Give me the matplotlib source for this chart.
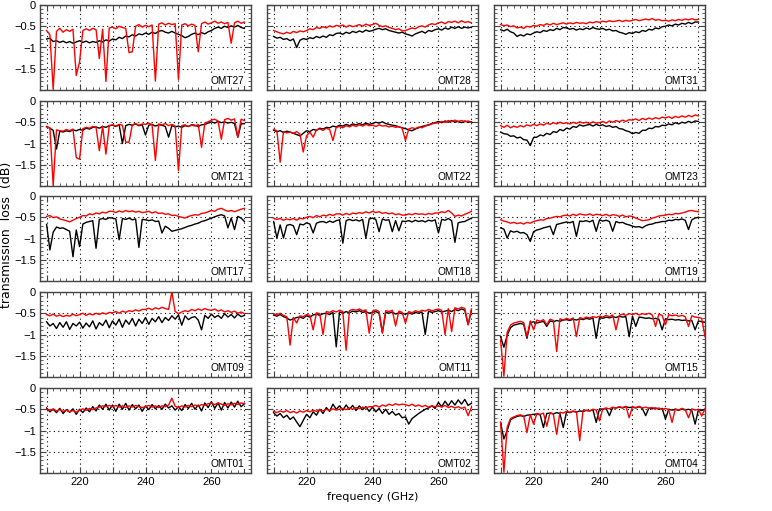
#Transmission loss of the OMT units, 15 panels

import numpy as np
import matplotlib.pyplot as plt
import matplotlib as mpl
from matplotlib.ticker import MultipleLocator

OUT_PATH = 'out.png'

mpl.rcParams.update({
    'font.family': ['Liberation Sans', 'DejaVu Sans'],
    'font.size': 8,
    'axes.unicode_minus': True,
})

# frequency grid (GHz), 1 GHz steps; the right column runs a bit further
FREQ = np.arange(210, 271)
FREQ_EXT = np.arange(210, 273)

OMT27_BLACK = [
    -0.80, -0.78, -0.86, -0.84, -0.88, -0.85, -0.89, -0.86, -0.90, -0.87,
    -0.84, -0.88, -0.85, -0.89, -0.86, -0.88, -0.84, -0.87, -0.82, -0.85,
    -0.80, -0.82, -0.76, -0.79, -0.73, -0.75, -0.70, -0.73, -0.68, -0.70,
    -0.66, -0.69, -0.64, -0.67, -0.62, -0.60, -0.64, -0.66, -0.62, -0.66,
    -0.69, -0.72, -0.77, -0.74, -0.69, -0.66, -0.70, -0.65, -0.68, -0.63,
    -0.60, -0.55, -0.52, -0.55, -0.50, -0.53, -0.49, -0.52, -0.48, -0.53,
    -0.55]
OMT27_RED = [
    -0.60, -0.70, -1.98, -0.62, -0.55, -0.64, -0.58, -0.62, -0.57, -1.66,
    -1.34, -0.60, -0.56, -0.60, -0.55, -0.58, -1.26, -0.57, -1.80, -0.54,
    -0.52, -0.56, -0.50, -0.53, -0.55, -1.12, -1.10, -0.50, -0.46, -0.52,
    -0.48, -0.51, -0.47, -1.79, -0.45, -0.42, -0.47, -0.43, -0.46, -0.44,
    -1.75, -0.47, -0.44, -0.49, -0.45, -0.48, -1.10, -0.44, -0.40, -0.45,
    -0.42, -0.38, -0.43, -0.40, -0.44, -0.41, -0.90, -0.42, -0.38, -0.43,
    -0.40]

OMT28_BLACK = [
    -0.74, -0.78, -0.76, -0.81, -0.79, -0.84, -0.80, -1.00, -0.83, -0.79,
    -0.81, -0.77, -0.79, -0.74, -0.77, -0.73, -0.76, -0.70, -0.72, -0.67,
    -0.66, -0.69, -0.64, -0.67, -0.62, -0.65, -0.61, -0.64, -0.59, -0.62,
    -0.60, -0.57, -0.55, -0.58, -0.56, -0.60, -0.62, -0.64, -0.66, -0.64,
    -0.68, -0.70, -0.73, -0.68, -0.65, -0.62, -0.66, -0.60, -0.62, -0.58,
    -0.56, -0.59, -0.54, -0.57, -0.52, -0.55, -0.51, -0.55, -0.52, -0.54,
    -0.52]
OMT28_RED = [
    -0.60, -0.63, -0.66, -0.68, -0.64, -0.67, -0.62, -0.65, -0.61, -0.63,
    -0.60, -0.56, -0.58, -0.53, -0.55, -0.51, -0.54, -0.49, -0.52, -0.48,
    -0.50, -0.47, -0.52, -0.48, -0.51, -0.49, -0.46, -0.50, -0.45, -0.48,
    -0.46, -0.43, -0.48, -0.51, -0.49, -0.53, -0.55, -0.58, -0.56, -0.61,
    -0.60, -0.57, -0.54, -0.56, -0.51, -0.49, -0.52, -0.47, -0.44, -0.46,
    -0.42, -0.40, -0.44, -0.39, -0.41, -0.38, -0.42, -0.37, -0.41, -0.39,
    -0.42]

OMT31_BLACK = [
    -0.58, -0.61, -0.57, -0.63, -0.66, -0.74, -0.70, -0.73, -0.68, -0.70,
    -0.66, -0.63, -0.65, -0.60, -0.62, -0.58, -0.60, -0.55, -0.58, -0.53,
    -0.54, -0.57, -0.55, -0.59, -0.56, -0.58, -0.54, -0.57, -0.53, -0.56,
    -0.57, -0.55, -0.59, -0.57, -0.61, -0.60, -0.64, -0.66, -0.69, -0.65,
    -0.67, -0.63, -0.65, -0.60, -0.62, -0.57, -0.59, -0.54, -0.56, -0.51,
    -0.50, -0.47, -0.49, -0.45, -0.47, -0.43, -0.45, -0.41, -0.44, -0.40,
    -0.40]
OMT31_RED = [
    -0.46, -0.49, -0.47, -0.51, -0.49, -0.54, -0.52, -0.55, -0.50, -0.52,
    -0.48, -0.50, -0.46, -0.48, -0.44, -0.47, -0.43, -0.46, -0.44, -0.42,
    -0.45, -0.42, -0.44, -0.41, -0.43, -0.42, -0.44, -0.40, -0.42, -0.39,
    -0.41, -0.38, -0.40, -0.37, -0.39, -0.38, -0.36, -0.39, -0.36, -0.38,
    -0.36, -0.34, -0.37, -0.35, -0.33, -0.35, -0.32, -0.36, -0.34, -0.37,
    -0.36, -0.38, -0.35, -0.37, -0.34, -0.36, -0.33, -0.35, -0.32, -0.35,
    -0.34]

OMT21_BLACK = [
    -0.60, -0.64, -0.69, -1.13, -0.71, -0.73, -0.70, -0.72, -0.68, -0.70,
    -0.67, -0.69, -0.64, -0.66, -0.62, -0.61, -0.64, -0.60, -0.62, -0.58,
    -0.57, -0.60, -0.56, -1.00, -0.58, -0.55, -0.57, -0.54, -0.58, -0.56,
    -0.80, -0.57, -0.55, -0.59, -0.56, -0.57, -0.60, -0.85, -0.58, -0.61,
    -0.59, -0.62, -0.58, -0.60, -0.56, -0.57, -0.60, -0.56, -0.55, -0.52,
    -0.49, -0.52, -0.48, -0.51, -0.49, -0.52, -0.50, -0.53, -0.85, -0.54,
    -0.53]
OMT21_RED = [
    -0.61, -0.63, -1.99, -0.68, -0.70, -0.71, -0.67, -0.70, -0.66, -1.33,
    -1.37, -0.65, -0.62, -0.64, -0.60, -0.62, -1.17, -0.59, -1.25, -0.58,
    -0.56, -0.59, -0.55, -0.57, -0.97, -0.97, -0.56, -0.53, -0.57, -0.54,
    -0.55, -0.52, -0.56, -1.40, -0.54, -0.56, -0.53, -0.58, -0.55, -0.59,
    -1.64, -0.58, -0.56, -0.60, -0.57, -0.59, -0.55, -1.09, -0.52, -0.49,
    -0.45, -0.43, -0.47, -0.90, -0.44, -0.41, -0.45, -0.42, -0.85, -0.43,
    -0.46]

OMT22_BLACK = [
    -0.69, -0.72, -0.70, -0.74, -0.71, -0.73, -0.76, -0.79, -0.82, -0.76,
    -0.70, -0.72, -0.67, -0.69, -0.64, -0.66, -0.62, -0.63, -0.59, -0.61,
    -0.57, -0.59, -0.55, -0.58, -0.54, -0.56, -0.53, -0.56, -0.52, -0.55,
    -0.53, -0.50, -0.52, -0.49, -0.53, -0.55, -0.57, -0.58, -0.61, -0.63,
    -0.65, -0.68, -0.70, -0.66, -0.63, -0.60, -0.58, -0.56, -0.53, -0.51,
    -0.48, -0.51, -0.47, -0.50, -0.46, -0.50, -0.48, -0.51, -0.47, -0.50,
    -0.49]
OMT22_RED = [
    -0.67, -0.70, -1.44, -0.72, -0.75, -0.73, -0.76, -0.72, -0.78, -1.20,
    -0.82, -0.73, -0.85, -0.68, -0.66, -0.69, -0.64, -0.67, -0.93, -0.62,
    -0.60, -0.63, -0.58, -0.61, -0.57, -0.60, -0.56, -0.59, -0.55, -0.58,
    -0.57, -0.60, -0.56, -0.59, -0.58, -0.61, -0.59, -0.62, -0.60, -0.64,
    -0.93, -0.66, -0.63, -0.65, -0.61, -0.63, -0.59, -0.57, -0.54, -0.52,
    -0.51, -0.48, -0.50, -0.46, -0.49, -0.45, -0.48, -0.46, -0.49, -0.47,
    -0.50]

OMT23_BLACK = [
    -0.73, -0.77, -0.78, -0.83, -0.82, -0.87, -0.85, -0.91, -0.92, -1.05,
    -0.86, -0.85, -0.80, -0.82, -0.76, -0.79, -0.72, -0.74, -0.67, -0.70,
    -0.64, -0.66, -0.60, -0.62, -0.56, -0.59, -0.57, -0.55, -0.59, -0.55,
    -0.58, -0.56, -0.60, -0.58, -0.62, -0.60, -0.65, -0.66, -0.70, -0.72,
    -0.77, -0.74, -0.76, -0.69, -0.69, -0.64, -0.65, -0.60, -0.61, -0.57,
    -0.58, -0.54, -0.56, -0.51, -0.54, -0.50, -0.52, -0.48, -0.51, -0.47,
    -0.48]
OMT23_RED = [
    -0.58, -0.62, -0.57, -0.63, -0.59, -0.62, -0.58, -0.61, -0.56, -0.59,
    -0.55, -0.58, -0.54, -0.57, -0.52, -0.55, -0.51, -0.54, -0.50, -0.53,
    -0.51, -0.54, -0.50, -0.53, -0.49, -0.52, -0.50, -0.53, -0.49, -0.52,
    -0.51, -0.48, -0.52, -0.47, -0.50, -0.46, -0.49, -0.45, -0.48, -0.44,
    -0.45, -0.42, -0.46, -0.41, -0.44, -0.40, -0.43, -0.39, -0.42, -0.38,
    -0.40, -0.37, -0.41, -0.36, -0.39, -0.35, -0.38, -0.34, -0.37, -0.33,
    -0.35]

OMT17_BLACK = [
    -0.67, -1.27, -0.85, -0.73, -0.76, -0.75, -0.79, -0.83, -1.43, -0.80,
    -1.19, -0.66, -0.62, -0.60, -0.58, -1.23, -0.55, -0.53, -0.55, -0.51,
    -0.52, -0.54, -1.03, -0.53, -0.55, -0.52, -0.56, -0.54, -1.21, -0.55,
    -0.56, -0.58, -0.56, -0.60, -0.59, -0.87, -0.71, -0.76, -0.83, -0.81,
    -0.79, -0.77, -0.74, -0.71, -0.69, -0.66, -0.64, -0.60, -0.58, -0.55,
    -0.52, -0.49, -0.46, -0.44, -0.47, -0.75, -0.52, -0.79, -0.48, -0.52,
    -0.60]
OMT17_RED = [
    -0.48, -0.46, -0.51, -0.49, -0.54, -0.56, -0.58, -0.61, -0.57, -0.53,
    -0.50, -0.46, -0.47, -0.42, -0.44, -0.40, -0.42, -0.38, -0.40, -0.36,
    -0.36, -0.39, -0.35, -0.38, -0.34, -0.37, -0.35, -0.38, -0.36, -0.39,
    -0.38, -0.36, -0.40, -0.37, -0.41, -0.40, -0.43, -0.42, -0.46, -0.45,
    -0.48, -0.50, -0.52, -0.48, -0.46, -0.44, -0.45, -0.41, -0.40, -0.37,
    -0.34, -0.36, -0.31, -0.29, -0.33, -0.36, -0.34, -0.37, -0.34, -0.31,
    -0.29]

OMT18_BLACK = [
    -0.60, -0.99, -0.68, -0.99, -0.69, -0.67, -0.70, -0.91, -0.66, -0.68,
    -0.63, -0.66, -0.87, -0.64, -0.61, -0.60, -0.63, -0.59, -0.62, -0.58,
    -0.56, -1.11, -0.58, -0.55, -0.58, -0.56, -0.59, -0.55, -0.99, -0.54,
    -0.52, -0.55, -0.84, -0.54, -0.57, -0.56, -0.84, -0.58, -0.82, -0.59,
    -0.60, -0.58, -0.61, -0.57, -0.60, -0.58, -0.61, -0.57, -0.59, -0.56,
    -0.87, -0.55, -0.57, -0.53, -0.58, -1.09, -0.63, -0.61, -0.60, -0.56,
    -0.52]
OMT18_RED = [
    -0.52, -0.55, -0.53, -0.57, -0.54, -0.56, -0.53, -0.57, -0.52, -0.54,
    -0.50, -0.48, -0.51, -0.46, -0.49, -0.45, -0.47, -0.43, -0.46, -0.42,
    -0.42, -0.45, -0.41, -0.44, -0.40, -0.42, -0.39, -0.41, -0.37, -0.40,
    -0.36, -0.39, -0.37, -0.41, -0.39, -0.42, -0.40, -0.44, -0.42, -0.45,
    -0.45, -0.42, -0.44, -0.41, -0.43, -0.42, -0.44, -0.41, -0.43, -0.40,
    -0.40, -0.37, -0.39, -0.34, -0.40, -0.48, -0.45, -0.47, -0.43, -0.40,
    -0.36]

OMT19_BLACK = [
    -0.75, -0.78, -0.99, -0.82, -0.85, -0.83, -0.87, -0.86, -0.91, -1.07,
    -0.84, -0.80, -0.78, -0.75, -0.73, -0.71, -0.91, -0.67, -0.65, -0.63,
    -0.61, -0.63, -0.60, -0.95, -0.59, -0.60, -0.58, -0.61, -0.57, -0.83,
    -0.56, -0.59, -0.57, -0.60, -0.83, -0.60, -0.63, -0.62, -0.66, -0.68,
    -0.71, -0.73, -0.72, -0.75, -0.70, -0.67, -0.66, -0.63, -0.62, -0.60,
    -0.60, -0.57, -0.58, -0.55, -0.56, -0.54, -0.57, -0.79, -0.56, -0.52,
    -0.50]
OMT19_RED = [
    -0.56, -0.59, -0.61, -0.64, -0.62, -0.65, -0.63, -0.66, -0.62, -0.64,
    -0.60, -0.58, -0.56, -0.57, -0.53, -0.52, -0.50, -0.48, -0.49, -0.46,
    -0.45, -0.47, -0.43, -0.46, -0.42, -0.44, -0.45, -0.42, -0.46, -0.43,
    -0.44, -0.46, -0.43, -0.47, -0.44, -0.45, -0.48, -0.45, -0.49, -0.47,
    -0.48, -0.52, -0.55, -0.58, -0.57, -0.56, -0.52, -0.50, -0.47, -0.46,
    -0.45, -0.43, -0.44, -0.41, -0.42, -0.40, -0.38, -0.35, -0.34, -0.36,
    -0.37]

OMT09_BLACK = [
    -0.70, -0.80, -0.74, -0.86, -0.72, -0.83, -0.70, -0.88, -0.74, -0.80,
    -0.71, -0.85, -0.73, -0.82, -0.68, -0.87, -0.72, -0.79, -0.66, -0.84,
    -0.68, -0.78, -0.64, -0.83, -0.66, -0.76, -0.62, -0.80, -0.64, -0.74,
    -0.60, -0.76, -0.62, -0.70, -0.58, -0.72, -0.60, -0.67, -0.56, -0.64,
    -0.54, -0.78, -0.56, -0.65, -0.60, -0.58, -0.66, -0.89, -0.55, -0.62,
    -0.52, -0.60, -0.55, -0.62, -0.51, -0.59, -0.53, -0.61, -0.52, -0.58,
    -0.55]
OMT09_RED = [
    -0.53, -0.56, -0.52, -0.57, -0.54, -0.58, -0.55, -0.57, -0.52, -0.56,
    -0.53, -0.50, -0.55, -0.51, -0.54, -0.50, -0.53, -0.49, -0.52, -0.48,
    -0.49, -0.46, -0.50, -0.45, -0.48, -0.44, -0.46, -0.42, -0.45, -0.41,
    -0.41, -0.38, -0.42, -0.37, -0.40, -0.36, -0.39, -0.41, 0.00, -0.46,
    -0.51, -0.47, -0.44, -0.46, -0.41, -0.44, -0.40, -0.43, -0.39, -0.42,
    -0.43, -0.40, -0.45, -0.42, -0.47, -0.44, -0.48, -0.45, -0.50, -0.47,
    -0.51]

OMT11_BLACK = [
    -0.54, -0.57, -0.53, -0.58, -0.61, -0.66, -0.63, -0.60, -0.59, -0.62,
    -0.56, -0.59, -0.54, -0.52, -0.55, -0.51, -0.50, -0.53, -0.48, -1.29,
    -0.47, -0.50, -0.46, -0.49, -0.45, -0.47, -0.44, -0.48, -0.46, -0.50,
    -0.48, -0.46, -0.50, -0.95, -0.48, -0.50, -0.47, -0.52, -0.49, -0.51,
    -0.52, -0.49, -0.52, -0.48, -0.50, -0.47, -1.00, -0.45, -0.48, -0.46,
    -0.44, -0.47, -0.45, -0.43, -0.46, -0.41, -0.44, -0.40, -0.43, -0.77,
    -0.44]
OMT11_RED = [
    -0.51, -0.54, -0.50, -0.55, -0.58, -1.25, -0.60, -0.73, -0.56, -0.58,
    -0.53, -0.55, -0.89, -0.49, -0.51, -1.00, -0.46, -0.48, -0.44, -0.47,
    -0.43, -0.46, -1.37, -0.44, -0.41, -0.43, -0.40, -0.44, -0.42, -0.97,
    -0.45, -0.42, -0.46, -0.97, -0.44, -0.46, -0.43, -0.80, -0.45, -0.48,
    -0.73, -0.46, -0.49, -0.44, -0.47, -0.43, -0.45, -0.41, -0.44, -0.42,
    -0.40, -0.43, -1.00, -0.39, -0.93, -0.37, -0.40, -0.36, -0.39, -0.77,
    -0.40]

# OMT15 and OMT04 are on FREQ_EXT (210-272 GHz)
OMT15_BLACK = [
    -1.05, -1.30, -1.02, -0.84, -0.78, -0.76, -0.74, -0.76, -1.09, -0.72,
    -0.70, -0.73, -0.71, -0.69, -0.81, -0.68, -0.70, -0.67, -0.69, -0.66,
    -0.65, -0.67, -0.64, -0.66, -0.63, -0.65, -0.62, -0.64, -0.61, -1.09,
    -0.60, -0.62, -0.59, -0.61, -0.58, -0.60, -0.57, -0.59, -0.58, -1.05,
    -0.57, -0.81, -0.59, -0.60, -0.62, -0.61, -0.63, -0.62, -0.64, -0.89,
    -0.63, -0.65, -0.64, -0.66, -0.65, -0.67, -0.66, -0.68, -0.67, -0.89,
    -0.68, -0.70, -0.71]
OMT15_RED = [
    -1.13, -1.98, -0.95, -0.78, -0.73, -0.71, -0.69, -0.72, -1.05, -0.68,
    -0.89, -0.66, -0.69, -0.65, -0.77, -0.64, -0.67, -1.40, -0.63, -0.66,
    -0.62, -0.65, -0.61, -1.05, -0.60, -0.63, -0.59, -0.61, -0.58, -0.60,
    -0.57, -0.59, -0.55, -0.58, -0.54, -0.89, -0.55, -0.52, -0.55, -0.51,
    -0.53, -0.50, -0.54, -0.51, -0.53, -0.50, -0.54, -0.81, -0.52, -0.55,
    -0.77, -0.53, -0.56, -0.54, -0.57, -0.55, -0.58, -0.81, -0.56, -0.59,
    -0.60, -0.62, -1.05]

OMT01_BLACK = [
    -0.47, -0.56, -0.50, -0.58, -0.48, -0.60, -0.51, -0.57, -0.49, -0.62,
    -0.50, -0.58, -0.47, -0.56, -0.44, -0.54, -0.40, -0.50, -0.38, -0.52,
    -0.40, -0.55, -0.38, -0.50, -0.36, -0.52, -0.39, -0.49, -0.40, -0.55,
    -0.42, -0.51, -0.39, -0.49, -0.41, -0.50, -0.38, -0.47, -0.42, -0.52,
    -0.44, -0.53, -0.39, -0.48, -0.36, -0.50, -0.40, -0.54, -0.35, -0.46,
    -0.32, -0.48, -0.35, -0.52, -0.34, -0.47, -0.33, -0.45, -0.31, -0.44,
    -0.37]
OMT01_RED = [
    -0.50, -0.53, -0.49, -0.54, -0.51, -0.55, -0.52, -0.56, -0.53, -0.57,
    -0.52, -0.49, -0.53, -0.48, -0.51, -0.47, -0.45, -0.42, -0.44, -0.41,
    -0.44, -0.41, -0.45, -0.42, -0.46, -0.42, -0.45, -0.41, -0.44, -0.46,
    -0.44, -0.41, -0.45, -0.42, -0.46, -0.42, -0.44, -0.40, -0.24, -0.43,
    -0.46, -0.42, -0.45, -0.41, -0.44, -0.40, -0.43, -0.39, -0.41, -0.37,
    -0.36, -0.39, -0.35, -0.38, -0.41, -0.37, -0.40, -0.36, -0.39, -0.35,
    -0.37]

OMT02_BLACK = [
    -0.58, -0.66, -0.60, -0.70, -0.64, -0.74, -0.68, -0.80, -0.91, -0.76,
    -0.62, -0.70, -0.56, -0.64, -0.50, -0.60, -0.46, -0.55, -0.38, -0.50,
    -0.42, -0.52, -0.40, -0.50, -0.41, -0.53, -0.42, -0.51, -0.44, -0.55,
    -0.45, -0.56, -0.48, -0.60, -0.50, -0.62, -0.55, -0.64, -0.60, -0.70,
    -0.68, -0.85, -0.72, -0.66, -0.60, -0.55, -0.50, -0.47, -0.42, -0.48,
    -0.34, -0.44, -0.31, -0.42, -0.30, -0.40, -0.28, -0.38, -0.27, -0.41,
    -0.36]
OMT02_RED = [
    -0.55, -0.58, -0.54, -0.57, -0.53, -0.58, -0.55, -0.59, -0.54, -0.57,
    -0.53, -0.56, -0.52, -0.55, -0.51, -0.54, -0.50, -0.53, -0.49, -0.52,
    -0.50, -0.48, -0.51, -0.47, -0.50, -0.46, -0.49, -0.45, -0.47, -0.44,
    -0.44, -0.41, -0.45, -0.40, -0.43, -0.38, -0.41, -0.37, -0.40, -0.38,
    -0.39, -0.42, -0.38, -0.43, -0.40, -0.44, -0.41, -0.45, -0.42, -0.44,
    -0.42, -0.45, -0.41, -0.46, -0.43, -0.47, -0.44, -0.48, -0.45, -0.65,
    -0.46]

OMT04_BLACK = [
    -0.82, -1.20, -1.00, -0.75, -0.70, -0.67, -0.65, -0.67, -0.64, -0.63,
    -0.62, -0.61, -0.63, -0.93, -0.60, -0.59, -0.61, -0.58, -0.60, -0.93,
    -0.56, -0.58, -0.55, -0.57, -0.54, -0.55, -0.53, -0.54, -0.51, -0.81,
    -0.49, -0.50, -0.48, -0.65, -0.46, -0.47, -0.45, -0.47, -0.44, -0.46,
    -0.45, -0.47, -0.44, -0.48, -0.65, -0.47, -0.49, -0.47, -0.50, -0.48,
    -0.73, -0.50, -0.52, -0.50, -0.53, -0.49, -0.52, -0.50, -0.53, -0.85,
    -0.51, -0.53, -0.50]
OMT04_RED = [
    -0.80, -1.98, -0.92, -0.72, -0.68, -0.65, -0.63, -0.66, -1.05, -0.62,
    -0.85, -0.60, -0.62, -0.59, -0.90, -0.58, -0.61, -1.09, -0.57, -0.59,
    -0.55, -0.57, -0.54, -0.56, -1.24, -0.53, -0.52, -0.54, -0.50, -0.52,
    -0.77, -0.49, -0.47, -0.49, -0.45, -0.47, -0.44, -0.46, -0.43, -0.70,
    -0.44, -0.46, -0.43, -0.47, -0.45, -0.48, -0.46, -0.49, -0.47, -0.50,
    -0.48, -0.51, -0.81, -0.49, -0.52, -0.48, -0.51, -0.70, -0.49, -0.52,
    -0.50, -0.66, -0.49]

# rows top to bottom, columns left to right
PANELS = [
    [('OMT27', FREQ, OMT27_BLACK, OMT27_RED),
     ('OMT28', FREQ, OMT28_BLACK, OMT28_RED),
     ('OMT31', FREQ, OMT31_BLACK, OMT31_RED)],
    [('OMT21', FREQ, OMT21_BLACK, OMT21_RED),
     ('OMT22', FREQ, OMT22_BLACK, OMT22_RED),
     ('OMT23', FREQ, OMT23_BLACK, OMT23_RED)],
    [('OMT17', FREQ, OMT17_BLACK, OMT17_RED),
     ('OMT18', FREQ, OMT18_BLACK, OMT18_RED),
     ('OMT19', FREQ, OMT19_BLACK, OMT19_RED)],
    [('OMT09', FREQ, OMT09_BLACK, OMT09_RED),
     ('OMT11', FREQ, OMT11_BLACK, OMT11_RED),
     ('OMT15', FREQ_EXT, OMT15_BLACK, OMT15_RED)],
    [('OMT01', FREQ, OMT01_BLACK, OMT01_RED),
     ('OMT02', FREQ, OMT02_BLACK, OMT02_RED),
     ('OMT04', FREQ_EXT, OMT04_BLACK, OMT04_RED)],
]

Y_TICKS = [-2, -1.5, -1, -0.5, 0]
Y_TICKLABELS = ['', '\u22121.5', '\u22121', '\u22120.5', '0']
X_TICKS = [210, 220, 230, 240, 250, 260, 270]
X_TICKLABELS = ['', '220', '', '240', '', '260', '']

# panel placement in pixels of the 772x511 figure
FIG_W, FIG_H = 772, 511
COL_LEFT = [40, 267, 494]
ROW_TOP = [5, 101, 196, 292, 388]
PANEL_W, PANEL_H = 211, 85
SPINE_COL = '#444444'


def main():
    fig = plt.figure(figsize=(FIG_W / 100, FIG_H / 100), dpi=100)

    for r, row in enumerate(PANELS):
        for c, (name, freq, black, red) in enumerate(row):
            ax = fig.add_axes([COL_LEFT[c] / FIG_W,
                               1 - (ROW_TOP[r] + PANEL_H) / FIG_H,
                               PANEL_W / FIG_W, PANEL_H / FIG_H])
            ax.plot(freq, black, color='black', lw=1.0)
            ax.plot(freq, red, color='red', lw=1.0)

            ax.set_xlim(208, 272)
            ax.set_ylim(-2, 0)
            ax.set_xticks(X_TICKS)
            ax.set_yticks(Y_TICKS)
            ax.xaxis.set_minor_locator(MultipleLocator(2))
            ax.yaxis.set_minor_locator(MultipleLocator(0.1))
            ax.grid(True, which='major', color='black',
                    linestyle=(0, (1, 3)), lw=0.8)
            ax.tick_params(which='both', direction='in', top=True,
                           right=True, color=SPINE_COL, labelsize=8,
                           pad=3)
            ax.tick_params(which='major', length=4)
            ax.tick_params(which='minor', length=2)
            for sp in ax.spines.values():
                sp.set_color(SPINE_COL)
                sp.set_linewidth(1.0)

            ax.set_yticklabels(Y_TICKLABELS if c == 0 else [])
            ax.set_xticklabels(X_TICKLABELS if r == len(PANELS) - 1 else [])

            ax.text(0.967, 0.05, name, transform=ax.transAxes,
                    ha='right', va='bottom', fontsize=7.3,
                    bbox=dict(facecolor='white', edgecolor='none', pad=0.5))

    fig.text(0.008, 0.54, 'transmission  loss  (dB)', rotation=90,
             ha='center', va='center', fontsize=9, family='DejaVu Sans')
    fig.text(0.483, 0.027, 'frequency (GHz)', ha='center', va='center',
             fontsize=8, family='DejaVu Sans')

    plt.savefig(OUT_PATH, dpi=100)
    plt.close()


if __name__ == '__main__':
    main()
